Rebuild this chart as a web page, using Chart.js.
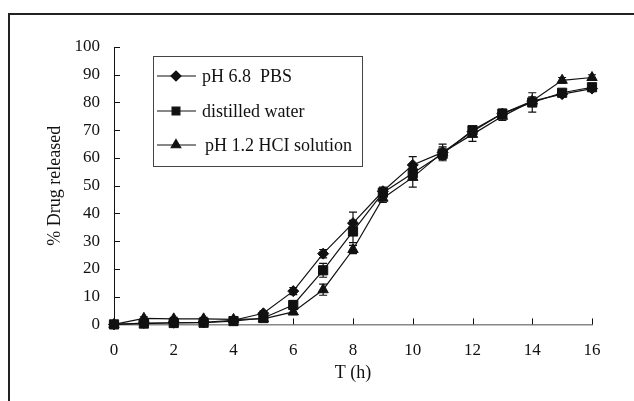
<!DOCTYPE html>
<html>
<head>
<meta charset="utf-8">
<script src="https://cdn.jsdelivr.net/npm/chart.js@4/dist/chart.umd.min.js"></script>
<style>
  html, body { margin: 0; padding: 0; background: #fff; }
  #wrap { width: 634px; height: 401px; }
</style>
</head>
<body>
<div id="wrap"><canvas id="chart" width="634" height="401"></canvas></div>
<script>
// time points (h)
const hours = [0, 1, 2, 3, 4, 5, 6, 7, 8, 9, 10, 11, 12, 13, 14, 15, 16]

// % drug released
const pbs = [0, 0.5, 0.6, 0.7, 1.5, 4, 12, 25.5, 36.5, 48, 57.5, 62, 69.5, 76, 80.5, 83, 85]
const water = [0, 0.3, 0.5, 0.6, 1.2, 2.3, 7, 19.5, 33.5, 47.5, 54.5, 61.5, 70, 76, 80, 83.5, 85.5]
const hcl = [0, 2.2, 2, 2, 1.8, 2, 4.5, 12.5, 27, 45.5, 53, 62, 68.5, 75, 80.5, 88, 89]

// error bars (+/-)
const pbsErr = [0, 0.3, 0.3, 0.3, 0.5, 0.8, 1.3, 1.5, 4, 1.5, 3, 2, 1.5, 1, 1, 0.8, 1]
const waterErr = [0, 0.3, 0.3, 0.3, 0.5, 0.6, 1.5, 2.5, 4, 1.5, 2, 2, 1.5, 1.5, 3.5, 1, 1]
const hclErr = [0, 0.5, 0.5, 0.5, 0.5, 0.5, 1, 2, 1.5, 1.5, 3.5, 3, 2.5, 1.5, 1.5, 1, 1]

const seriesNames = ["pH 6.8  PBS", "distilled water", "pH 1.2 HCI solution"]
const xTicks = [0, 2, 4, 6, 8, 10, 12, 14, 16]
const yTicks = [0, 10, 20, 30, 40, 50, 60, 70, 80, 90, 100]

const serif = "'Liberation Serif', 'Times New Roman', serif"

function pts(ys) {
  return hours.map((h, i) => ({ x: h, y: ys[i] }))
}

const styles = [
  { pointStyle: "rectRot", pointRadius: 5.5 },
  { pointStyle: "rect", pointRadius: 6.5 },
  { pointStyle: "triangle", pointRadius: 6 },
]
const errs = [pbsErr, waterErr, hclErr]

// error bars drawn under the markers
const errorBars = {
  id: "errorBars",
  beforeDatasetsDraw(chart) {
    const ctx = chart.ctx
    const xs = chart.scales.x
    const ys = chart.scales.y
    ctx.save()
    ctx.strokeStyle = "#111"
    ctx.lineWidth = 1.2
    chart.data.datasets.forEach((ds, di) => {
      ds.data.forEach((p, i) => {
        const e = errs[di][i]
        if (!e) return
        const px = xs.getPixelForValue(p.x)
        const top = ys.getPixelForValue(p.y + e)
        const bot = ys.getPixelForValue(p.y - e)
        ctx.beginPath()
        ctx.moveTo(px, top)
        ctx.lineTo(px, bot)
        ctx.moveTo(px - 4, top)
        ctx.lineTo(px + 4, top)
        ctx.moveTo(px - 4, bot)
        ctx.lineTo(px + 4, bot)
        ctx.stroke()
      })
    })
    ctx.restore()
  },
}

// inward tick marks, outer frame and the boxed legend
const decorations = {
  id: "decorations",
  afterDraw(chart) {
    const ctx = chart.ctx
    const xs = chart.scales.x
    const ys = chart.scales.y
    const area = chart.chartArea
    ctx.save()

    ctx.strokeStyle = "#111"
    ctx.lineWidth = 1
    yTicks.forEach((v) => {
      const py = Math.round(ys.getPixelForValue(v)) + 0.5
      ctx.beginPath()
      ctx.moveTo(area.left, py)
      ctx.lineTo(area.left + 6, py)
      ctx.stroke()
    })
    xTicks.forEach((v) => {
      if (v === 0) return
      const px = Math.round(xs.getPixelForValue(v)) + 0.5
      ctx.beginPath()
      ctx.moveTo(px, area.bottom)
      ctx.lineTo(px, area.bottom - 6)
      ctx.stroke()
    })

    // outer frame
    ctx.strokeStyle = "#222"
    ctx.lineWidth = 2
    ctx.strokeRect(9, 14, 627, 500)

    // legend
    const box = { x: 153.5, y: 56.5, w: 209, h: 110 }
    ctx.fillStyle = "#fff"
    ctx.fillRect(box.x, box.y, box.w, box.h)
    ctx.strokeStyle = "#444"
    ctx.lineWidth = 1
    ctx.strokeRect(box.x, box.y, box.w, box.h)

    const rows = [76, 111, 145]
    const textX = [202, 202, 205]
    ctx.font = "18px " + serif
    ctx.textBaseline = "middle"
    ctx.textAlign = "left"
    rows.forEach((ry, i) => {
      ctx.strokeStyle = "#111"
      ctx.lineWidth = 1.2
      ctx.beginPath()
      ctx.moveTo(157, ry)
      ctx.lineTo(196, ry)
      ctx.stroke()
      ctx.fillStyle = "#111"
      Chart.helpers.drawPoint(ctx, {
        pointStyle: styles[i].pointStyle,
        radius: i === 0 ? 5 : 5.5,
        rotation: 0,
        borderWidth: 1,
      }, 176, ry)
      ctx.fillStyle = "#111"
      ctx.fillText(seriesNames[i], textX[i], ry + 1)
    })

    ctx.restore()
  },
}

const datasets = [pbs, water, hcl].map((ys, i) => ({
  label: seriesNames[i],
  data: pts(ys),
  borderColor: "#111",
  backgroundColor: "#111",
  borderWidth: 1.2,
  pointStyle: styles[i].pointStyle,
  pointRadius: styles[i].pointRadius,
  pointBackgroundColor: "#111",
  pointBorderColor: "#111",
  pointBorderWidth: 1,
  tension: 0,
  clip: false,
}))

new Chart(document.getElementById("chart").getContext("2d"), {
  type: "line",
  data: { datasets },
  options: {
    responsive: false,
    animation: false,
    events: [],
    layout: { padding: { left: 40, top: 47, right: 42, bottom: 13 } },
    plugins: {
      legend: { display: false },
      tooltip: { enabled: false },
    },
    scales: {
      x: {
        type: "linear",
        min: 0,
        max: 16,
        afterFit: (s) => { s.height = 63.6 },
        afterBuildTicks: (s) => { s.ticks = xTicks.map((v) => ({ value: v })) },
        grid: { display: false, drawTicks: false },
        border: { display: true, color: "#888", width: 1.5 },
        ticks: {
          padding: 16,
          color: "#111",
          maxRotation: 0,
          font: { family: serif, size: 17 },
        },
        title: {
          display: true,
          text: "T (h)",
          color: "#111",
          font: { family: serif, size: 18 },
        },
      },
      y: {
        min: 0,
        max: 100,
        afterFit: (s) => { s.width = 74 },
        afterBuildTicks: (s) => { s.ticks = yTicks.map((v) => ({ value: v })) },
        grid: { display: false, drawTicks: false },
        border: { display: true, color: "#111", width: 1 },
        ticks: {
          padding: 14,
          color: "#111",
          font: { family: serif, size: 17 },
        },
        title: {
          display: true,
          text: "% Drug released",
          color: "#111",
          font: { family: serif, size: 18 },
        },
      },
    },
  },
  plugins: [errorBars, decorations],
})
</script>
</body>
</html>
